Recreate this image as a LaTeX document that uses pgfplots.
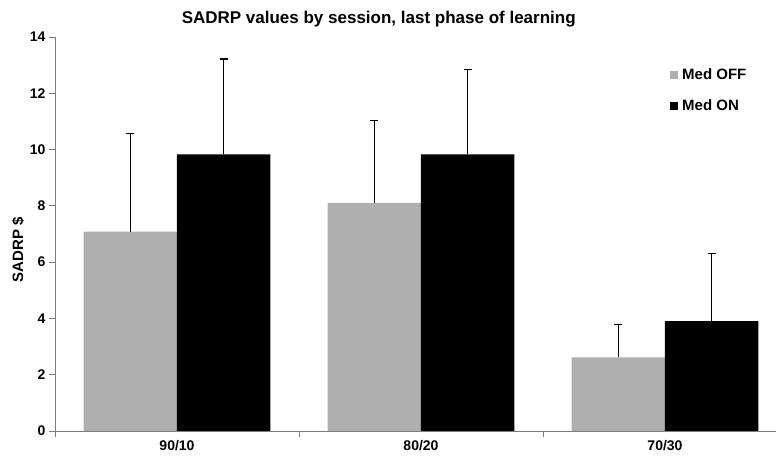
\documentclass[border=0pt]{standalone}
\usepackage{pgfplots}
\usepackage{pgfplotstable}
\pgfplotsset{compat=1.18}
\usepackage{fontspec}
\setmainfont{Liberation Sans}

\definecolor{offgray}{RGB}{175,175,175}
\definecolor{axisgray}{RGB}{125,125,125}

% SADRP means with the upper error bar (plus direction only)
\pgfplotstableread{
x  off   offerr  on    onerr
0  7.08  3.50    9.83  3.39
1  8.11  2.93    9.83  3.01
2  2.62  1.17    3.90  2.41
}\sadrp

\begin{document}
\begin{tikzpicture}
\begin{axis}[
  scale only axis,
  width=721pt, height=394pt,
  ybar=0pt, bar width=0.383,
  xmin=-0.5, xmax=2.455, ymin=0, ymax=14,
  axis x line=bottom, axis y line=left,
  axis line style={-, axisgray, line width=0.8pt},
  tick align=outside,
  xtick={0,1,2}, xticklabels={90/10,80/20,70/30},
  major x tick style={draw=none},
  minor xtick={-0.5,0.5,1.5},
  minor x tick style={axisgray, line width=0.8pt},
  minor tick length=6pt,
  ytick={0,2,...,14},
  y tick style={axisgray, line width=0.8pt},
  major tick length=6pt,
  /pgf/number format/assume math mode=true,
  tick label style={font=\bfseries\fontsize{14}{16}\selectfont},
  ylabel={SADRP \$},
  ylabel style={at={(axis description cs:-0.051,0.46)}, anchor=center,
    font=\bfseries\fontsize{15}{17}\selectfont},
  title={SADRP values by session, last phase of learning},
  title style={at={(axis description cs:0.449,1.03)}, anchor=center,
    font=\bfseries\fontsize{17}{19}\selectfont},
  legend style={draw=none, fill=none, at={(axis description cs:0.853,0.925)},
    anchor=north west, font=\bfseries\fontsize{15}{17}\selectfont,
    row sep=15pt, inner sep=0pt, legend cell align=left,
    nodes={inner xsep=4pt}},
  error bars/error bar style={black, line width=1.3pt},
  error bars/error mark options={rotate=90, black, mark size=4pt, line width=1.3pt},
]
\addplot[fill=offgray, draw=none,
  legend image code/.code={\fill[offgray] (0pt,-4pt) rectangle (8pt,4pt);},
  error bars/.cd, y dir=plus, y explicit]
  table[x=x, y=off, y error=offerr] {\sadrp};
\addlegendentry{Med OFF}
\addplot[fill=black, draw=none,
  legend image code/.code={\fill[black] (0pt,-4pt) rectangle (8pt,4pt);},
  error bars/.cd, y dir=plus, y explicit]
  table[x=x, y=on, y error=onerr] {\sadrp};
\addlegendentry{Med ON}
\coordinate (bl) at (rel axis cs:0,0);
\coordinate (tr) at (rel axis cs:1,1);
\end{axis}
\pgfresetboundingbox
\path[use as bounding box] ([xshift=-55pt,yshift=-34pt]bl) rectangle ([yshift=37pt]tr);
\end{tikzpicture}
\end{document}
